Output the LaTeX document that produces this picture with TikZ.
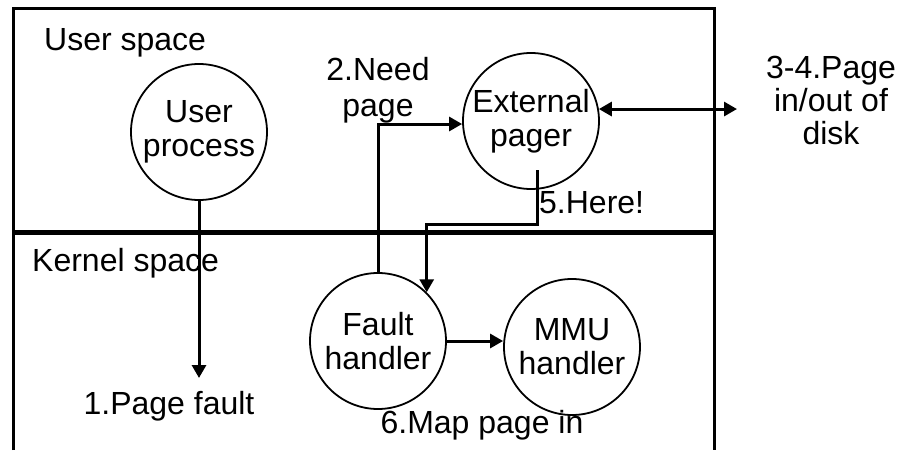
\documentclass[tikz,border=0pt]{standalone}
\usepackage{fontspec}
\setmainfont{Liberation Sans}
\usetikzlibrary{arrows.meta}
\begin{document}
\begin{tikzpicture}[x=1pt,y=-1pt,
  proc/.style={draw,circle,line width=1.8pt,minimum size=136pt,inner sep=0pt,align=center,font=\fontsize{32}{34}\selectfont},
  lbl/.style={inner sep=0pt,align=center,font=\fontsize{32}{36}\selectfont},
  arr/.style={line width=3pt,-{Triangle[length=13pt,width=14pt]}},
  wall/.style={line width=3pt},
  divider/.style={line width=5pt}]
\useasboundingbox (0,0) rectangle (908,450);
% frame
\draw[wall] (13,450) -- (13,8) -- (714,8) -- (714,450);
\draw[divider] (13,232) -- (714,232);
% region labels
\node[lbl,anchor=west] (us) at (44,43) {User space};
\node[lbl,anchor=west] (ks) at (32,263) {Kernel space};
% processes
\node[proc] (up) at (199,132) {User\\process};
\node[proc] (ep) at (531,121) {External\\pager};
\node[proc] (fh) at (378,341) {Fault\\handler};
\node[proc] (mmu) at (572,347) {MMU\\handler};
% coordinates
\coordinate (pf) at (199,378);
\coordinate (h1) at (537,170);
\coordinate (disk) at (737,108);
% connectors
\draw[arr] (up.south) -- (pf);
\draw[arr] (fh.north) |- (ep.west |- 0,124);
\draw[arr] (h1) -- (537,224) -| (fh.north east);
\draw[arr] (fh.east) -- (fh.east -| mmu.west);
\draw[line width=3pt,{Triangle[length=13pt,width=14pt]}-{Triangle[length=13pt,width=14pt]}] (ep.10) -- (ep.10 -| disk);
% labels
\node[lbl] (l1) at (169,406) {1.Page fault};
\node[lbl] (l2) at (378,90) {2.Need\\page};
\node[lbl,font=\fontsize{32}{33}\selectfont] (l34) at (831,100) {3-4.Page\\in/out of\\disk};
\node[lbl,anchor=west] (l5) at (539,203) {5.Here!};
\node[lbl] (l6) at (482,425) {6.Map page in};
\end{tikzpicture}
\end{document}
